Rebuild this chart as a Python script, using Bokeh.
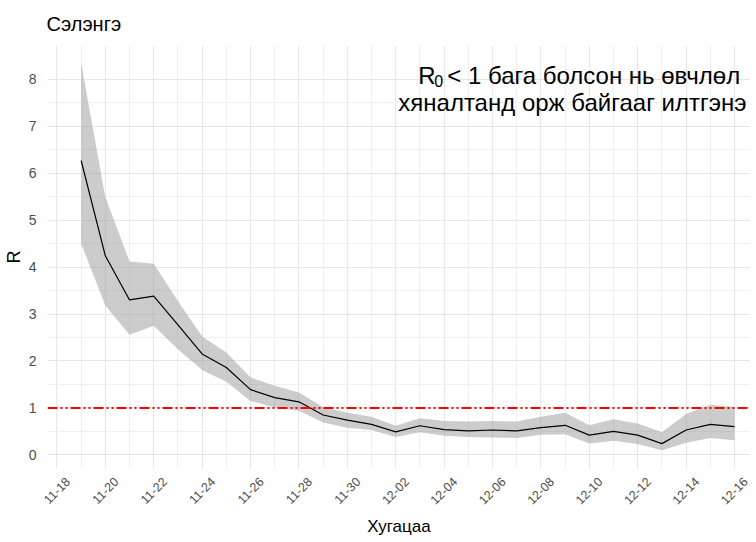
import pandas as pd
from bokeh.plotting import figure
from bokeh.models import Range1d, FixedTicker, Span, Label, LinearAxis, ColumnDataSource
from bokeh.embed import file_html
from bokeh.resources import INLINE

# ---- data ----
dates = ["11-19", "11-20", "11-21", "11-22", "11-23", "11-24", "11-25", "11-26",
         "11-27", "11-28", "11-29", "11-30", "12-01", "12-02", "12-03", "12-04",
         "12-05", "12-06", "12-07", "12-08", "12-09", "12-10", "12-11", "12-12",
         "12-13", "12-14", "12-15", "12-16"]
r_mean = [6.27, 4.24, 3.30, 3.38, 2.77, 2.15, 1.86, 1.39, 1.22, 1.13, 0.85, 0.74,
          0.65, 0.49, 0.62, 0.54, 0.51, 0.53, 0.51, 0.58, 0.63, 0.42, 0.50, 0.42,
          0.24, 0.53, 0.65, 0.60]
r_upper = [8.34, 5.49, 4.12, 4.07, 3.28, 2.52, 2.18, 1.65, 1.47, 1.33, 1.02, 0.90,
           0.81, 0.62, 0.78, 0.72, 0.71, 0.72, 0.71, 0.81, 0.90, 0.63, 0.76, 0.67,
           0.48, 0.87, 1.07, 1.02]
r_lower = [4.50, 3.18, 2.56, 2.75, 2.25, 1.81, 1.56, 1.15, 1.01, 0.94, 0.69, 0.58,
           0.53, 0.38, 0.48, 0.41, 0.38, 0.37, 0.36, 0.43, 0.44, 0.24, 0.30, 0.23,
           0.10, 0.26, 0.36, 0.31]
tick_labels = ["11-18", "11-20", "11-22", "11-24", "11-26", "11-28", "11-30", "12-02",
               "12-04", "12-06", "12-08", "12-10", "12-12", "12-14", "12-16"]
y_ticks = [0, 1, 2, 3, 4, 5, 6, 7, 8]
threshold = 1
title_text = "Сэлэнгэ"
x_title = "Хугацаа"
y_title = "R"
note_r = "R"
note_sub = "0"
note_line1 = "< 1 бага болсон нь өвчлөл"
note_line2 = "хяналтанд орж байгааг илтгэнэ"
year = "2020"

# ---- convert dates to day offsets from first tick ----
origin = pd.Timestamp(f"{year}-{tick_labels[0]}")
def day_of(s):
    return (pd.Timestamp(f"{year}-{s}") - origin).days

x = [day_of(d) for d in dates]
tick_pos = [day_of(t) for t in tick_labels]
minor_pos = [t + 1 for t in tick_pos[:-1]]

src = ColumnDataSource(dict(x=x, mean=r_mean, lo=r_lower, hi=r_upper))

FONT = "Liberation Sans"
X0, X1 = -0.39, 28.66
Y0, Y1 = -0.29, 8.72
LABEL_SHIFT = 0.45   # rotated tick labels sit centred below their ticks, as in the reference

p = figure(frame_width=703, frame_height=423, output_backend="svg", toolbar_location=None,
           x_range=Range1d(X0, X1), y_range=Range1d(Y0, Y1),
           min_border_left=37, min_border_right=0, min_border_top=45,
           min_border_bottom=66)
p.outline_line_color = None
p.background_fill_color = "white"
p.border_fill_color = "white"

main_x = p.xaxis[0]
main_x.ticker = FixedTicker(ticks=tick_pos, minor_ticks=minor_pos)
main_x.visible = False
p.yaxis.ticker = FixedTicker(ticks=y_ticks, minor_ticks=[v + 0.5 for v in y_ticks[:-1]])

# grid
p.xgrid.ticker = FixedTicker(ticks=tick_pos, minor_ticks=minor_pos)
for g in (p.xgrid, p.ygrid):
    g.grid_line_color = "#e6e6e6"
    g.grid_line_width = 1.2
    g.minor_grid_line_color = "#efefef"
    g.minor_grid_line_width = 1.0

# band + line
p.varea(x="x", y1="lo", y2="hi", source=src, fill_color="#999999", fill_alpha=0.5)
p.line(x="x", y="mean", source=src, line_color="black", line_width=1.2)

# threshold line
p.add_layout(Span(location=threshold, dimension="width", line_color="red",
                  line_width=2, line_dash="10 3 2 3 2 3"))

# date axis (labels placed like the reference's rotated labels)
p.extra_x_ranges = {"labels": Range1d(X0 - LABEL_SHIFT, X1 - LABEL_SHIFT)}
date_axis = LinearAxis(x_range_name="labels", ticker=FixedTicker(ticks=tick_pos),
                       major_label_overrides={pos: lab for pos, lab in zip(tick_pos, tick_labels)})
p.add_layout(date_axis, "below")

for ax in (date_axis, p.yaxis[0]):
    ax.axis_line_color = None
    ax.major_tick_line_color = None
    ax.minor_tick_line_color = None
    ax.major_label_text_font = FONT
    ax.major_label_text_color = "#4d4d4d"
    ax.axis_label_text_font = FONT
    ax.axis_label_text_font_style = "normal"
    ax.axis_label_text_color = "black"

date_axis.major_label_orientation = 0.785398
date_axis.major_label_text_font_size = "12.5px"
date_axis.major_label_standoff = 5
date_axis.axis_label = x_title
date_axis.axis_label_text_font_size = "17px"
date_axis.axis_label_standoff = 6

p.yaxis.major_label_text_font_size = "14px"
p.yaxis.major_label_standoff = 5
p.yaxis.axis_label = y_title
p.yaxis.axis_label_text_font_size = "18px"
p.yaxis.axis_label_standoff = 2

# title
p.title.text = title_text
p.title.text_font = FONT
p.title.text_font_size = "20px"
p.title.text_font_style = "normal"
p.title.text_color = "black"
p.title.align = "left"
p.title.offset = -1
p.title.standoff = 21

# annotation
note_x = 14.93
y1_note, y2_note = 8.08, 7.50
p.add_layout(Label(x=note_x, y=y1_note, text=note_r, text_font=FONT, text_font_size="24px",
                   text_color="black", text_align="left", text_baseline="alphabetic"))
p.add_layout(Label(x=note_x, y=y1_note, x_offset=16, y_offset=-5, text=note_sub, text_font=FONT,
                   text_font_size="16px", text_color="black", text_align="left",
                   text_baseline="alphabetic"))
p.add_layout(Label(x=note_x, y=y1_note, x_offset=29, text=note_line1, text_font=FONT,
                   text_font_size="24px", text_color="black", text_align="left",
                   text_baseline="alphabetic"))
p.add_layout(Label(x=21.30, y=y2_note, text=note_line2, text_font=FONT,
                   text_font_size="24px", text_color="black", text_align="center",
                   text_baseline="alphabetic"))

open("out.html", "w").write(file_html(p, INLINE))
